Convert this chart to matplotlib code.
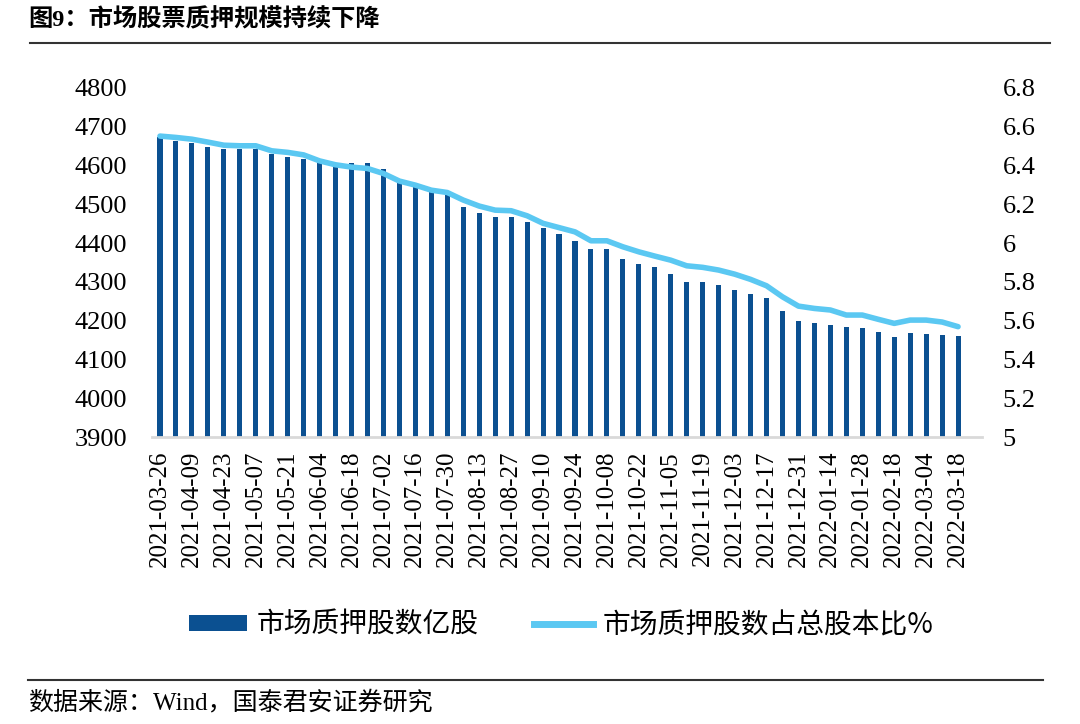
import matplotlib
matplotlib.use("Agg")
import matplotlib.pyplot as plt
from matplotlib.patches import Patch
from matplotlib.lines import Line2D

plt.rcParams['font.family'] = ['Liberation Serif', 'Noto Sans CJK SC', 'DejaVu Sans']

dates = [
    "2021-03-26", "2021-04-02", "2021-04-09", "2021-04-16", "2021-04-23", "2021-04-30",
    "2021-05-07", "2021-05-14", "2021-05-21", "2021-05-28", "2021-06-04", "2021-06-11",
    "2021-06-18", "2021-06-25", "2021-07-02", "2021-07-09", "2021-07-16", "2021-07-23",
    "2021-07-30", "2021-08-06", "2021-08-13", "2021-08-20", "2021-08-27", "2021-09-03",
    "2021-09-10", "2021-09-17", "2021-09-24", "2021-10-01", "2021-10-08", "2021-10-15",
    "2021-10-22", "2021-10-29", "2021-11-05", "2021-11-12", "2021-11-19", "2021-11-26",
    "2021-12-03", "2021-12-10", "2021-12-17", "2021-12-24", "2021-12-31", "2022-01-07",
    "2022-01-14", "2022-01-21", "2022-01-28", "2022-02-11", "2022-02-18", "2022-02-25",
    "2022-03-04", "2022-03-11", "2022-03-18",
]

pledged_shares = [
    4674, 4664, 4657, 4649, 4642, 4642, 4642, 4629, 4623, 4617,
    4612, 4597, 4606, 4606, 4591, 4558, 4552, 4533, 4528, 4492,
    4477, 4468, 4468, 4455, 4438, 4423, 4406, 4384, 4384, 4360,
    4345, 4339, 4320, 4300, 4299, 4291, 4279, 4268, 4258, 4225,
    4198, 4194, 4188, 4183, 4180, 4171, 4158, 4169, 4165, 4163,
    4161,
]

pledged_ratio = [
    6.552, 6.545, 6.536, 6.521, 6.505, 6.502, 6.502, 6.476, 6.468, 6.455,
    6.424, 6.404, 6.392, 6.385, 6.359, 6.320, 6.299, 6.273, 6.261, 6.222,
    6.191, 6.170, 6.167, 6.141, 6.102, 6.080, 6.058, 6.012, 6.012, 5.981,
    5.955, 5.933, 5.912, 5.883, 5.875, 5.861, 5.840, 5.813, 5.780, 5.723,
    5.675, 5.663, 5.655, 5.629, 5.629, 5.607, 5.586, 5.603, 5.603, 5.593,
    5.569,
]

left_ticks = [3900, 4000, 4100, 4200, 4300, 4400, 4500, 4600, 4700, 4800]
right_ticks = [5.0, 5.2, 5.4, 5.6, 5.8, 6.0, 6.2, 6.4, 6.6, 6.8]
right_tick_labels = ["5", "5.2", "5.4", "5.6", "5.8", "6", "6.2", "6.4", "6.6", "6.8"]

bar_label = "市场质押股数亿股"
line_label = "市场质押股数占总股本比%"
title = "图9：市场股票质押规模持续下降"
source = "数据来源：Wind，国泰君安证券研究"

bar_color = "#0B5091"
line_color = "#5BC8F2"

fig = plt.figure(figsize=(10.8, 7.24), dpi=100)
ax = fig.add_axes([152/1080, 1-437/724, (982-152)/1080, (437-88)/724])

x = list(range(len(dates)))
ax.bar(x, pledged_shares, width=0.32, color=bar_color, zorder=2)
ax.set_ylim(3900, 4800)
ax.set_xlim(-0.5, len(dates) + 0.5)
ax.set_yticks(left_ticks)
ax.set_yticklabels([str(t) for t in left_ticks])

ax2 = ax.twinx()
ax2.plot(x, pledged_ratio, color=line_color, lw=4.0, solid_capstyle='round', zorder=3)
ax2.set_ylim(5.0, 6.8)
ax2.set_yticks(right_ticks)
ax2.set_yticklabels(right_tick_labels)

ax.set_xticks(x[::2])
ax.set_xticklabels(dates[::2], rotation=90)

for a in (ax, ax2):
    for s in a.spines.values():
        s.set_visible(False)
    a.tick_params(length=0)
ax.spines['bottom'].set_visible(True)
ax.spines['bottom'].set_color('#D9D9D9')
ax.spines['bottom'].set_linewidth(2)

ax.tick_params(axis='y', labelsize=19, pad=18)
ax2.tick_params(axis='y', labelsize=19, pad=15)
ax.tick_params(axis='x', labelsize=18, pad=10)

# Title and rules
fig.text(28/1080, 1-20/724, title, fontsize=17.5, fontweight='bold', va='center', ha='left',
         family=['Liberation Serif', 'Noto Sans CJK SC'])
fig.add_artist(Line2D([30/1080, 1050/1080], [1-43/724, 1-43/724], color='#333333', lw=1.5))
fig.add_artist(Line2D([28/1080, 1043/1080], [1-680/724, 1-680/724], color='#333333', lw=1.5))
fig.text(28/1080, 1-703/724, source, fontsize=18, va='center', ha='left',
         family=['Liberation Serif', 'Noto Sans CJK SC'])

handles = [Patch(facecolor=bar_color, edgecolor='none'),
           Line2D([0], [0], color=line_color, lw=5)]
fig.legend(handles, [bar_label, line_label], loc='center', bbox_to_anchor=(561/1080, 1-625/724),
           ncol=2, frameon=False, handlelength=2.1, handleheight=0.5,
           columnspacing=2.0, handletextpad=0.35,
           prop={'family': ['Noto Sans CJK SC'], 'size': 20})

fig.savefig("out.png", dpi=100)
